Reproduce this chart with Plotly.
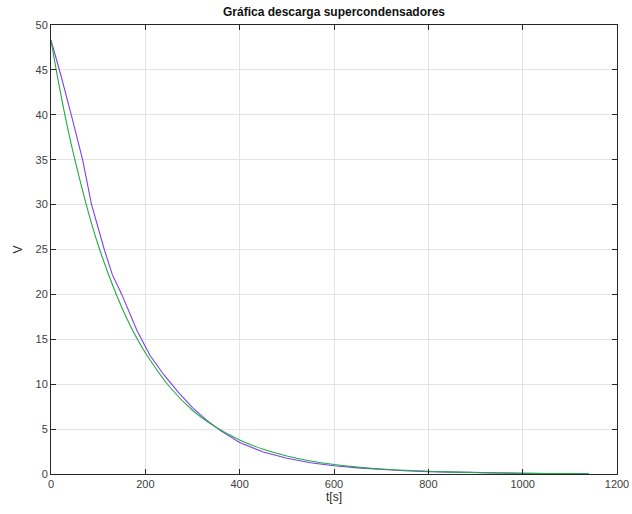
import plotly.graph_objects as go

# Measured discharge (purple)
t_meas = [0, 20, 43, 67, 86, 113, 130, 150, 182, 210, 240, 270, 300, 330, 360, 400, 450,
          500, 550, 600, 650, 700, 750, 800, 850, 900, 950, 1000, 1050, 1100, 1140]
v_meas = [48.3, 44.6, 40.0, 35.0, 30.0, 25.0, 22.2, 20.0, 16.0, 13.2, 11.0, 9.1, 7.4, 6.0,
          4.8, 3.5, 2.45, 1.75, 1.25, 0.92, 0.68, 0.5, 0.37, 0.27, 0.2, 0.14, 0.1, 0.07,
          0.05, 0.035, 0.025]

# Fitted curve (green)
t_fit = [0, 20, 40, 60, 80, 100, 120, 140, 160, 180, 200, 250, 300, 350, 400, 450, 500,
         550, 600, 650, 700, 750, 800, 850, 900, 950, 1000, 1050, 1100, 1140]
v_fit = [48.3, 42.5, 37.4, 33.0, 29.0, 25.5, 22.5, 19.8, 17.4, 15.3, 13.5, 9.8, 7.1, 5.2,
         3.78, 2.75, 2.0, 1.45, 1.06, 0.77, 0.56, 0.41, 0.30, 0.21, 0.16, 0.11, 0.083,
         0.06, 0.044, 0.032]

x_ticks = [0, 200, 400, 600, 800, 1000, 1200]
y_ticks = [0, 5, 10, 15, 20, 25, 30, 35, 40, 45, 50]

FONT = "Liberation Sans, Arial, sans-serif"

fig = go.Figure()
fig.add_trace(go.Scatter(x=t_meas, y=v_meas, mode="lines",
                         line=dict(color="#7f3ff0", width=1.1), showlegend=False))
fig.add_trace(go.Scatter(x=t_fit, y=v_fit, mode="lines", line_shape="spline",
                         line=dict(color="#22aa44", width=1.1), showlegend=False))

axis_common = dict(
    showline=True, linecolor="#262626", linewidth=1, mirror="ticks",
    ticks="inside", ticklen=5, tickcolor="#262626",
    showgrid=True, gridcolor="#e3e3e3", gridwidth=1,
    zeroline=False, automargin=False,
    tickfont=dict(family=FONT, size=11, color="#404040"),
)

fig.update_layout(
    width=632, height=514,
    margin=dict(l=51, r=15, t=25, b=40),
    paper_bgcolor="white", plot_bgcolor="white",
    title=dict(text="<b>Gráfica descarga supercondensadores</b>",
               x=0.5, xanchor="center", xref="paper", y=1 - 12 / 514, yanchor="middle",
               font=dict(family=FONT, size=12, color="#111111"), automargin=False),
    xaxis=dict(range=[0, 1200], tickvals=x_ticks,
               title=dict(text="t[s]", standoff=2,
                          font=dict(family=FONT, size=12, color="#262626")),
               **axis_common),
    yaxis=dict(range=[0, 50], tickvals=y_ticks,
               title=dict(text="V", standoff=10,
                          font=dict(family=FONT, size=12, color="#262626")),
               **axis_common),
)

fig.write_html("out.html",
               config={"displayModeBar": False},
               post_script="document.body.style.margin='0';document.body.style.overflow='hidden';")
